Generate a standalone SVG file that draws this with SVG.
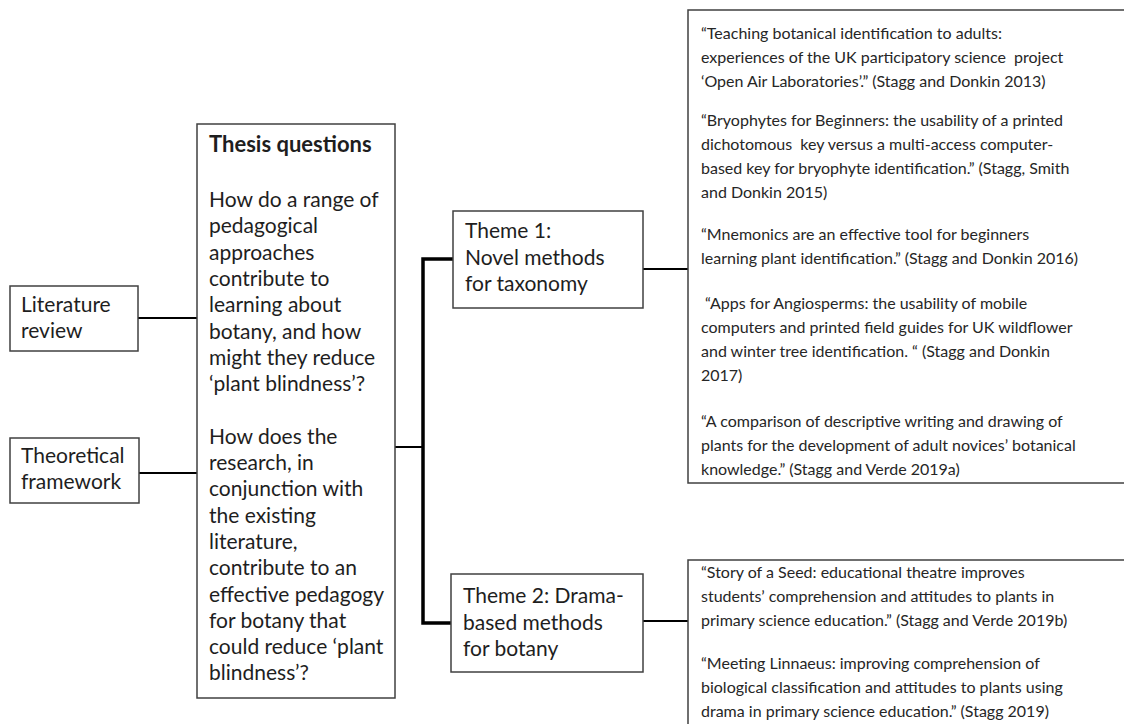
<svg xmlns="http://www.w3.org/2000/svg" width="1124" height="724" viewBox="0 0 1124 724">
<style>
.box{fill:#fff;stroke:#404040;stroke-width:1.5}
.t{font-family:Lato,"Liberation Sans",sans-serif;font-size:21px;fill:#1e1e1e;white-space:pre}
.b{font-weight:bold;font-size:22px}
.r{font-family:Lato,"Liberation Sans",sans-serif;font-size:16px;fill:#262626;white-space:pre}
.thin{stroke:#000;stroke-width:2;fill:none}
.thick{stroke:#000;stroke-width:3.5;fill:none}
</style>
<rect width="1124" height="724" fill="#fff"/>
<g id="connectors">
<line class="thin" x1="138" y1="318" x2="197" y2="318"/>
<line class="thin" x1="139" y1="473" x2="197" y2="473"/>
<line class="thin" x1="395" y1="447" x2="423" y2="447"/>
<polyline class="thick" points="453,259 423,259 423,623 451,623"/>
<line class="thin" x1="643" y1="269" x2="688" y2="269"/>
<line class="thin" x1="643" y1="621" x2="688" y2="621"/>
</g>
<g id="literature-review">
<rect class="box" x="10" y="286" width="128" height="65"/>
<text class="t" x="21" y="312">Literature</text>
<text class="t" x="21" y="338">review</text>
</g>
<g id="theoretical-framework">
<rect class="box" x="10" y="438" width="129" height="65"/>
<text class="t" x="21" y="463">Theoretical</text>
<text class="t" x="21" y="489">framework</text>
</g>
<g id="thesis-questions">
<rect class="box" x="197" y="124" width="198" height="574"/>
<text class="t b" x="209" y="152">Thesis questions</text>
<text class="t" x="209" y="207">How do a range of</text>
<text class="t" x="209" y="233.3">pedagogical</text>
<text class="t" x="209" y="259.6">approaches</text>
<text class="t" x="209" y="285.9">contribute to</text>
<text class="t" x="209" y="312.2">learning about</text>
<text class="t" x="209" y="338.5">botany, and how</text>
<text class="t" x="209" y="364.8">might they reduce</text>
<text class="t" x="209" y="391.1">‘plant blindness’?</text>
<text class="t" x="209" y="443.7">How does the</text>
<text class="t" x="209" y="470">research, in</text>
<text class="t" x="209" y="496.3">conjunction with</text>
<text class="t" x="209" y="522.6">the existing</text>
<text class="t" x="209" y="548.9">literature,</text>
<text class="t" x="209" y="575.2">contribute to an</text>
<text class="t" x="209" y="601.5">effective pedagogy</text>
<text class="t" x="209" y="627.8">for botany that</text>
<text class="t" x="209" y="654.1">could reduce ‘plant</text>
<text class="t" x="209" y="680.4">blindness’?</text>
</g>
<g id="theme-1">
<rect class="box" x="453" y="211" width="190" height="97"/>
<text class="t" x="465" y="238">Theme 1:</text>
<text class="t" x="465" y="264.5">Novel methods</text>
<text class="t" x="465" y="291">for taxonomy</text>
</g>
<g id="theme-2">
<rect class="box" x="451" y="574" width="192" height="98"/>
<text class="t" x="463" y="603">Theme 2: Drama-</text>
<text class="t" x="463" y="629.5">based methods</text>
<text class="t" x="463" y="656">for botany</text>
</g>
<g id="papers-theme-1">
<rect class="box" x="688" y="10" width="450" height="473"/>
<text class="r" x="701" y="39">“Teaching botanical identification to adults:</text>
<text class="r" x="701" y="63">experiences of the UK participatory science  project</text>
<text class="r" x="701" y="87">‘Open Air Laboratories’.” (Stagg and Donkin 2013)</text>
<text class="r" x="701" y="126">“Bryophytes for Beginners: the usability of a printed</text>
<text class="r" x="701" y="150">dichotomous  key versus a multi-access computer-</text>
<text class="r" x="701" y="174">based key for bryophyte identification.” (Stagg, Smith</text>
<text class="r" x="701" y="198">and Donkin 2015)</text>
<text class="r" x="701" y="240">“Mnemonics are an effective tool for beginners</text>
<text class="r" x="701" y="264">learning plant identification.” (Stagg and Donkin 2016)</text>
<text class="r" x="701" y="309"> “Apps for Angiosperms: the usability of mobile</text>
<text class="r" x="701" y="333">computers and printed field guides for UK wildflower</text>
<text class="r" x="701" y="357">and winter tree identification. “ (Stagg and Donkin</text>
<text class="r" x="701" y="381">2017)</text>
<text class="r" x="701" y="427">“A comparison of descriptive writing and drawing of</text>
<text class="r" x="701" y="451">plants for the development of adult novices’ botanical</text>
<text class="r" x="701" y="475">knowledge.” (Stagg and Verde 2019a)</text>
</g>
<g id="papers-theme-2">
<rect class="box" x="688" y="560" width="450" height="180"/>
<text class="r" x="701" y="578">“Story of a Seed: educational theatre improves</text>
<text class="r" x="701" y="602">students’ comprehension and attitudes to plants in</text>
<text class="r" x="701" y="626">primary science education.” (Stagg and Verde 2019b)</text>
<text class="r" x="701" y="669">“Meeting Linnaeus: improving comprehension of</text>
<text class="r" x="701" y="693">biological classification and attitudes to plants using</text>
<text class="r" x="701" y="717">drama in primary science education.” (Stagg 2019)</text>
</g>
</svg>
